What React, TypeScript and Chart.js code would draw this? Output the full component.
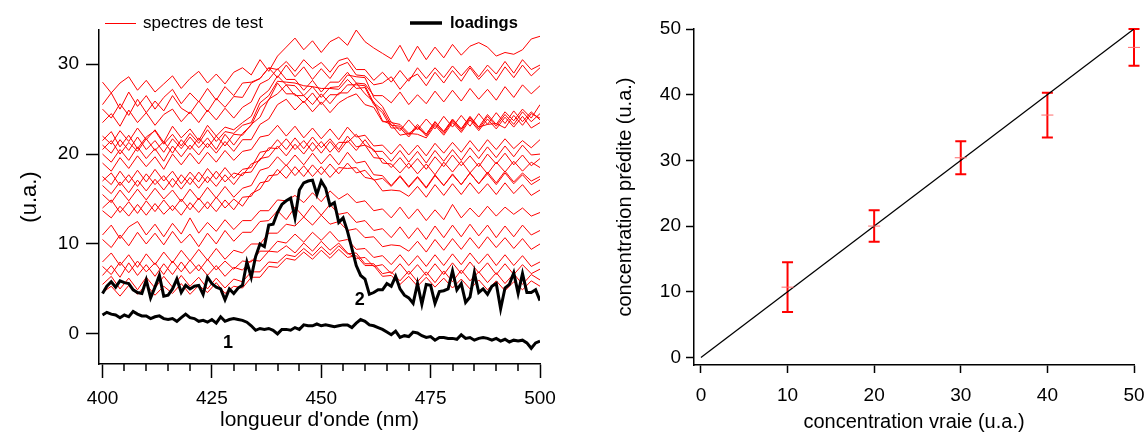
import React, { useEffect, useRef } from "react";
import { Chart, registerables } from "chart.js";

Chart.register(...registerables);

const FONT = "'Liberation Sans', Arial, Helvetica, sans-serif";
Chart.defaults.font.family = FONT;
Chart.defaults.color = "#000";

// ---------- Left panel data ----------
const WL_2NM = [
  400, 402, 404, 406, 408, 410, 412, 414, 416, 418, 420, 422, 424, 426, 428, 430, 432, 434, 436, 438,
  440, 442, 444, 446, 448, 450, 452, 454, 456, 458, 460, 462, 464, 466, 468, 470, 472, 474, 476, 478,
  480, 482, 484, 486, 488, 490, 492, 494, 496, 498, 500,
];
const WL_1NM = [
  400, 401, 402, 403, 404, 405, 406, 407, 408, 409, 410, 411, 412, 413, 414, 415, 416, 417, 418, 419,
  420, 421, 422, 423, 424, 425, 426, 427, 428, 429, 430, 431, 432, 433, 434, 435, 436, 437, 438, 439,
  440, 441, 442, 443, 444, 445, 446, 447, 448, 449, 450, 451, 452, 453, 454, 455, 456, 457, 458, 459,
  460, 461, 462, 463, 464, 465, 466, 467, 468, 469, 470, 471, 472, 473, 474, 475, 476, 477, 478, 479,
  480, 481, 482, 483, 484, 485, 486, 487, 488, 489, 490, 491, 492, 493, 494, 495, 496, 497, 498, 499, 500,
];

const SPECTRUM_01 = [28.0, 26.8, 27.9, 28.6, 27.1, 28.2, 26.9, 27.8, 28.7, 27.3, 28.4, 29.2, 27.9, 28.9, 27.8, 29.1, 29.6, 28.8, 30.5, 29.2, 30.9, 31.9, 32.9, 31.6, 32.6, 31.3, 32.5, 33.0, 32.1, 33.8, 32.5, 31.8, 31.2, 30.6, 32.1, 30.3, 32.0, 30.5, 31.9, 30.7, 32.2, 31.0, 32.0, 32.4, 31.9, 30.9, 31.3, 31.1, 31.6, 32.8, 33.1];
const SPECTRUM_02 = [25.5, 26.8, 25.0, 26.9, 25.3, 26.5, 25.0, 26.3, 27.2, 25.6, 26.8, 25.8, 27.3, 26.0, 27.5, 26.5, 27.9, 28.0, 28.4, 29.6, 29.4, 30.3, 29.2, 30.5, 29.5, 30.2, 29.1, 30.4, 30.7, 29.4, 29.4, 28.2, 29.1, 28.0, 29.3, 28.1, 29.6, 28.4, 29.6, 28.5, 29.8, 28.7, 29.8, 28.6, 29.9, 28.9, 30.3, 29.0, 30.5, 29.4, 29.9];
const SPECTRUM_03 = [25.0, 24.0, 25.6, 24.3, 26.1, 24.6, 25.9, 24.8, 26.5, 25.1, 24.5, 25.9, 24.7, 26.2, 25.2, 26.4, 26.3, 27.9, 28.4, 29.6, 28.5, 29.9, 28.6, 29.7, 28.3, 29.5, 28.4, 29.8, 30.2, 28.8, 28.7, 27.7, 27.9, 28.6, 27.2, 28.4, 28.9, 27.6, 29.1, 27.9, 29.3, 28.1, 29.6, 28.3, 29.4, 28.2, 29.7, 28.5, 29.9, 28.7, 29.6];
const SPECTRUM_04 = [23.5, 24.5, 23.1, 24.9, 23.5, 24.6, 23.2, 24.4, 25.0, 23.6, 24.7, 23.5, 24.9, 23.8, 25.1, 24.0, 25.2, 25.8, 27.8, 28.3, 29.5, 28.3, 28.3, 27.1, 28.2, 26.9, 28.0, 28.0, 29.1, 27.9, 27.8, 26.5, 26.5, 25.7, 26.9, 25.5, 26.6, 25.6, 27.0, 25.8, 27.1, 25.9, 27.3, 26.1, 27.2, 26.0, 27.5, 26.3, 27.7, 26.7, 27.6];
const SPECTRUM_05 = [22.0, 21.1, 22.6, 21.4, 22.9, 21.6, 22.7, 21.3, 23.1, 21.8, 22.8, 21.5, 23.2, 22.0, 23.0, 22.7, 23.5, 24.2, 26.3, 27.1, 28.7, 27.7, 27.6, 26.5, 27.5, 26.3, 27.4, 27.5, 28.8, 28.6, 28.5, 26.3, 25.3, 23.5, 23.3, 22.3, 22.9, 22.2, 23.6, 22.5, 23.8, 22.8, 24.2, 23.0, 24.4, 23.3, 24.7, 23.7, 25.0, 24.0, 25.5];
const SPECTRUM_06 = [21.5, 22.5, 20.8, 22.1, 20.6, 21.9, 22.6, 21.1, 22.2, 20.9, 22.3, 21.2, 22.7, 21.4, 22.5, 22.3, 23.2, 23.5, 25.7, 26.5, 28.1, 28.0, 27.9, 27.6, 27.5, 27.3, 27.3, 27.2, 28.3, 27.3, 27.4, 25.5, 24.6, 22.9, 22.9, 21.9, 23.1, 22.0, 23.4, 22.3, 23.7, 22.6, 24.0, 22.8, 24.2, 23.1, 24.4, 23.3, 24.7, 23.6, 24.5];
const SPECTRUM_07 = [21.0, 20.1, 21.6, 20.4, 21.9, 20.5, 21.5, 20.2, 21.7, 20.6, 21.9, 20.7, 21.8, 20.5, 22.2, 21.0, 22.3, 23.2, 25.2, 26.0, 27.9, 26.7, 26.7, 25.7, 26.8, 25.5, 26.6, 26.6, 27.7, 27.7, 27.6, 25.7, 24.9, 23.2, 23.1, 22.1, 23.3, 22.2, 23.6, 22.5, 23.9, 22.8, 24.1, 23.0, 23.3, 23.4, 22.9, 24.3, 23.2, 24.5, 24.0];
const SPECTRUM_08 = [20.5, 21.5, 20.0, 21.3, 20.3, 21.7, 20.4, 21.4, 20.1, 21.6, 20.5, 21.8, 20.7, 22.0, 20.9, 22.2, 22.1, 23.3, 24.1, 26.1, 26.7, 27.7, 26.5, 26.5, 25.5, 26.7, 25.6, 26.8, 26.8, 27.9, 26.7, 25.8, 23.7, 23.3, 22.1, 22.3, 22.2, 21.8, 23.2, 22.1, 23.5, 22.4, 23.8, 22.6, 23.9, 22.8, 24.1, 23.0, 24.2, 22.9, 23.5];
const SPECTRUM_09 = [20.0, 19.1, 20.5, 19.3, 20.8, 19.5, 20.6, 19.2, 20.9, 19.7, 21.0, 19.9, 21.2, 20.1, 21.4, 20.3, 21.6, 21.6, 23.3, 23.9, 25.5, 26.1, 24.9, 25.9, 24.7, 25.8, 24.6, 25.7, 26.3, 26.7, 25.5, 25.2, 23.6, 23.6, 22.6, 23.8, 22.7, 23.9, 22.8, 24.2, 23.0, 24.3, 23.1, 24.5, 23.3, 24.6, 23.4, 24.8, 23.6, 24.7, 23.8];
const SPECTRUM_10 = [19.0, 18.1, 19.6, 18.4, 19.8, 18.6, 19.7, 18.3, 20.0, 18.8, 20.1, 18.9, 20.2, 19.1, 20.4, 19.3, 20.3, 20.5, 21.9, 22.1, 23.2, 22.0, 23.1, 21.8, 22.9, 21.7, 22.8, 21.6, 23.0, 21.9, 22.1, 20.9, 21.0, 20.0, 21.1, 19.9, 21.0, 19.8, 21.2, 20.1, 21.3, 20.2, 21.5, 20.3, 21.6, 20.5, 21.7, 20.6, 21.5, 20.7, 21.6];
const SPECTRUM_11 = [17.5, 16.6, 18.1, 16.8, 18.2, 16.9, 18.3, 17.0, 18.1, 16.7, 18.0, 16.9, 18.4, 17.2, 18.5, 17.3, 18.3, 18.5, 20.2, 20.4, 21.6, 20.5, 21.8, 20.6, 21.9, 20.7, 21.7, 20.5, 22.0, 20.8, 21.0, 19.6, 19.5, 18.5, 19.6, 18.4, 19.5, 18.3, 19.7, 18.6, 19.9, 18.7, 19.8, 18.6, 20.0, 18.9, 20.1, 18.8, 19.9, 18.7, 19.5];
const SPECTRUM_12 = [17.0, 17.9, 16.5, 17.7, 16.4, 17.8, 16.6, 17.6, 16.3, 17.7, 16.6, 18.0, 16.8, 18.1, 16.9, 17.9, 17.6, 18.9, 19.3, 20.7, 20.6, 21.7, 20.5, 21.5, 20.3, 21.4, 20.2, 21.3, 21.3, 22.2, 21.0, 20.5, 19.0, 18.9, 17.9, 19.0, 17.8, 18.9, 17.7, 19.1, 18.0, 19.2, 17.9, 19.0, 17.8, 19.1, 18.0, 19.2, 18.1, 19.1, 18.5];
const SPECTRUM_13 = [16.5, 15.6, 16.9, 15.7, 17.1, 15.9, 17.2, 16.0, 17.3, 16.1, 17.4, 16.2, 17.5, 16.4, 17.7, 16.6, 17.9, 18.0, 19.5, 19.7, 20.9, 19.8, 21.1, 20.0, 21.3, 20.1, 21.4, 20.2, 21.5, 20.4, 21.6, 20.3, 20.3, 19.2, 20.4, 19.1, 20.3, 19.0, 20.4, 19.2, 20.5, 19.3, 20.7, 19.5, 20.8, 19.6, 20.9, 19.7, 21.0, 19.9, 20.0];
const SPECTRUM_14 = [15.5, 14.6, 16.0, 14.8, 16.1, 14.9, 16.2, 15.0, 16.0, 14.7, 16.1, 14.9, 16.3, 15.1, 16.4, 15.2, 16.2, 16.5, 18.2, 18.5, 19.7, 18.7, 19.9, 18.8, 20.1, 18.9, 20.0, 18.8, 20.2, 19.0, 19.2, 17.7, 17.6, 16.5, 17.6, 16.4, 17.5, 16.3, 17.7, 16.5, 17.8, 16.6, 17.9, 16.7, 17.8, 16.6, 17.9, 16.7, 17.7, 16.6, 17.2];
const SPECTRUM_15 = [14.0, 14.9, 13.5, 14.7, 13.4, 14.8, 13.6, 14.9, 13.7, 15.0, 13.8, 15.1, 13.9, 15.2, 14.0, 15.0, 14.2, 15.6, 16.1, 17.6, 17.7, 18.8, 17.6, 18.7, 17.5, 18.6, 17.4, 18.5, 18.4, 18.5, 17.4, 17.2, 15.9, 16.0, 15.9, 15.3, 16.4, 15.2, 16.6, 15.4, 16.7, 15.5, 16.8, 15.6, 16.7, 15.5, 16.8, 15.6, 16.6, 15.4, 16.0];
const SPECTRUM_16 = [13.7, 12.9, 14.2, 13.1, 14.4, 13.2, 14.5, 13.3, 14.3, 13.2, 14.6, 13.5, 14.7, 13.6, 14.9, 13.8, 15.2, 15.3, 16.8, 17.0, 18.3, 17.3, 18.6, 17.5, 18.8, 17.7, 18.9, 17.8, 19.0, 17.9, 18.2, 17.1, 17.3, 16.4, 17.5, 16.3, 17.4, 16.2, 17.6, 16.5, 17.7, 16.6, 17.9, 16.7, 18.0, 16.8, 18.1, 16.9, 17.9, 17.0, 17.5];
const SPECTRUM_17 = [11.0, 12.1, 10.6, 11.9, 12.5, 11.0, 12.2, 10.8, 12.3, 11.1, 12.9, 11.2, 12.4, 11.4, 12.7, 11.6, 12.6, 12.6, 13.7, 13.7, 14.9, 14.8, 15.4, 14.6, 15.7, 14.7, 15.9, 15.0, 15.6, 14.6, 14.8, 13.7, 13.9, 12.9, 14.1, 12.8, 13.9, 12.6, 13.8, 12.7, 14.4, 12.9, 14.0, 13.0, 14.2, 13.1, 14.1, 13.3, 14.0, 13.1, 13.5];
const SPECTRUM_18 = [10.5, 9.6, 11.0, 9.8, 11.3, 10.0, 11.2, 9.9, 11.4, 10.1, 11.1, 9.7, 11.2, 10.0, 11.5, 10.3, 11.3, 11.3, 12.5, 12.6, 13.7, 12.7, 14.1, 13.0, 14.3, 13.2, 14.4, 13.3, 13.5, 12.4, 12.6, 11.5, 11.7, 10.7, 11.9, 10.6, 11.8, 10.5, 12.0, 10.7, 12.1, 10.8, 12.2, 10.9, 12.1, 10.7, 12.0, 10.8, 12.1, 11.0, 11.5];
const SPECTRUM_19 = [8.0, 9.0, 7.6, 8.8, 7.4, 8.9, 7.7, 9.1, 7.9, 9.3, 8.1, 9.4, 8.2, 9.5, 8.3, 9.3, 9.0, 10.0, 10.0, 11.2, 11.2, 12.2, 12.0, 13.0, 12.1, 13.2, 12.2, 12.5, 11.5, 11.7, 10.7, 10.8, 9.7, 9.9, 9.8, 9.2, 10.3, 9.1, 10.5, 9.3, 10.6, 9.4, 10.7, 9.5, 10.8, 9.6, 10.7, 9.5, 10.6, 9.4, 10.0];
const SPECTRUM_20 = [7.5, 6.6, 8.0, 6.8, 8.1, 6.9, 7.9, 6.6, 8.1, 6.9, 8.2, 7.0, 8.3, 7.1, 8.1, 7.2, 8.1, 8.0, 9.2, 9.2, 10.3, 10.1, 11.1, 10.2, 11.3, 10.4, 11.4, 10.3, 10.5, 9.4, 9.5, 8.5, 8.7, 7.7, 8.8, 7.6, 8.7, 7.5, 8.8, 7.6, 8.9, 7.7, 9.0, 7.8, 8.9, 7.6, 8.8, 7.6, 8.7, 7.5, 8.0];
const SPECTRUM_21 = [6.5, 7.6, 6.3, 7.9, 6.5, 7.7, 6.4, 7.8, 6.6, 8.0, 6.7, 7.7, 6.5, 7.6, 6.4, 7.4, 7.1, 8.2, 8.1, 9.2, 9.1, 9.8, 9.0, 10.1, 9.2, 10.3, 9.3, 10.1, 9.0, 8.4, 8.5, 7.5, 7.7, 6.7, 7.8, 6.6, 7.7, 6.5, 7.8, 6.6, 7.9, 6.7, 8.0, 6.8, 7.9, 6.6, 7.8, 6.6, 7.7, 6.7, 7.2];
const SPECTRUM_22 = [5.5, 6.4, 5.0, 6.2, 4.9, 6.3, 5.1, 6.4, 5.2, 6.5, 5.3, 6.3, 5.0, 6.2, 5.1, 6.1, 5.8, 6.9, 6.9, 8.0, 7.9, 8.8, 8.6, 9.5, 8.7, 9.7, 8.8, 9.8, 8.9, 9.0, 7.8, 7.8, 6.7, 6.9, 5.9, 7.0, 5.8, 6.9, 5.7, 7.0, 5.8, 7.1, 5.9, 6.9, 5.7, 6.8, 5.6, 6.7, 5.5, 6.6, 6.0];
const SPECTRUM_23 = [4.6, 5.3, 4.2, 5.4, 4.4, 5.5, 4.3, 5.3, 4.5, 5.6, 4.4, 5.4, 4.6, 5.7, 4.5, 5.3, 5.1, 6.3, 6.3, 7.5, 7.4, 8.4, 8.2, 9.1, 8.3, 9.3, 8.4, 9.4, 8.5, 8.7, 7.6, 7.6, 6.4, 6.5, 5.5, 6.4, 5.3, 6.3, 5.2, 6.2, 5.1, 6.1, 5.0, 6.0, 4.9, 5.9, 4.8, 5.8, 4.9, 5.9, 5.3];

const TEST_SPECTRA = [
  SPECTRUM_01, SPECTRUM_02, SPECTRUM_03, SPECTRUM_04, SPECTRUM_05, SPECTRUM_06, SPECTRUM_07, SPECTRUM_08,
  SPECTRUM_09, SPECTRUM_10, SPECTRUM_11, SPECTRUM_12, SPECTRUM_13, SPECTRUM_14, SPECTRUM_15, SPECTRUM_16,
  SPECTRUM_17, SPECTRUM_18, SPECTRUM_19, SPECTRUM_20, SPECTRUM_21, SPECTRUM_22, SPECTRUM_23,
];

const LOADING_1 = [
  2.1, 2.4, 2.2, 2.1, 1.8, 2.1, 1.9, 2.5, 2.2, 2.0,
  2.0, 1.7, 1.9, 2.0, 1.7, 1.6, 1.7, 1.4, 1.8, 2.2,
  1.8, 1.7, 1.4, 1.5, 1.3, 1.6, 1.2, 1.9, 1.4, 1.6,
  1.7, 1.6, 1.5, 1.3, 0.9, 0.4, 0.6, 0.5, 0.6, 0.4,
  0.0, 0.5, 0.5, 0.4, 0.7, 0.5, 1.0, 0.9, 0.9, 1.1,
  0.9, 1.0, 0.9, 0.8, 0.9, 1.0, 1.0, 0.7, 1.2, 1.6,
  1.4, 1.0, 0.9, 0.7, 0.5, 0.2, -0.1, 0.3, -0.4, -0.2,
  -0.3, 0.2, 0.1, -0.2, -0.4, -0.3, -0.7, -0.4, -0.4, -0.5,
  -0.5, -0.6, -0.1, -0.5, -0.4, -0.7, -0.5, -0.4, -0.5, -0.7,
  -0.5, -0.8, -0.6, -0.9, -0.7, -0.8, -0.7, -1.0, -1.6, -1.0,
  -0.8,
];
const LOADING_2 = [
  4.5, 5.3, 5.8, 5.2, 5.9, 5.7, 5.6, 4.9, 4.6, 4.5,
  6.0, 4.0, 5.2, 6.5, 4.2, 4.3, 5.0, 6.1, 4.6, 5.4,
  5.0, 5.3, 5.4, 4.4, 6.3, 5.6, 5.2, 5.0, 3.8, 5.0,
  4.5, 5.1, 5.4, 8.0, 6.3, 8.6, 10.0, 9.7, 12.1, 12.2,
  13.5, 14.4, 14.8, 15.1, 12.9, 16.0, 16.8, 17.0, 17.1, 15.5,
  17.0, 16.2, 14.3, 14.6, 12.4, 12.9, 11.4, 9.5, 7.6, 6.5,
  6.1, 4.4, 4.6, 4.9, 4.9, 5.6, 5.3, 6.4, 5.0, 4.3,
  4.0, 3.4, 5.6, 3.3, 5.5, 5.4, 3.4, 4.7, 4.8, 5.0,
  7.0, 4.9, 5.6, 3.5, 4.1, 6.8, 4.6, 5.0, 4.4, 5.3,
  5.6, 2.8, 5.1, 5.5, 6.8, 4.5, 6.7, 4.6, 4.6, 4.9,
  3.7,
];
const LOADING_NAMES = ["1", "2"];
const LOADING_LABEL_X = [428.7, 458.8];
const LOADING_LABEL_Y = [-1.0, 3.8];

const LEFT_X_TICKS = [400, 405, 410, 415, 420, 425, 430, 435, 440, 445, 450, 455, 460, 465, 470, 475, 480, 485, 490, 495, 500];
const LEFT_X_MAJOR = [400, 425, 450, 475, 500];
const LEFT_Y_TICKS = [0, 10, 20, 30];

// ---------- Right panel data ----------
const TRUE_CONC = [10, 20, 30, 40, 50];
const PRED_CONC = [10.7, 20.0, 30.4, 36.9, 47.2];
const ERR_LOW = [6.9, 17.6, 27.9, 33.5, 44.4];
const ERR_HIGH = [14.5, 22.4, 32.9, 40.3, 50.0];
const FIT_X = [0, 50];
const FIT_Y = [0, 50];
const RIGHT_TICKS = [0, 10, 20, 30, 40, 50];

const toPoints = (xs: number[], ys: number[]) => ys.map((y, i) => ({ x: xs[i], y }));

const leftDecor = {
  id: "leftDecor",
  afterDraw(chart: any) {
    const { ctx, chartArea } = chart;
    const xs = chart.scales.x;
    const ys = chart.scales.y;
    ctx.save();
    ctx.strokeStyle = "#000";
    ctx.lineWidth = 1.5;
    LEFT_X_TICKS.forEach((v) => {
      if (LEFT_X_MAJOR.includes(v)) return;
      const px = Math.round(xs.getPixelForValue(v));
      ctx.beginPath();
      ctx.moveTo(px, chartArea.bottom);
      ctx.lineTo(px, chartArea.bottom + 7);
      ctx.stroke();
    });
    ctx.strokeStyle = "#ff0000";
    ctx.lineWidth = 1;
    ctx.beginPath();
    ctx.moveTo(105, 23.5);
    ctx.lineTo(136, 23.5);
    ctx.stroke();
    ctx.fillStyle = "#000";
    ctx.textBaseline = "middle";
    ctx.textAlign = "left";
    ctx.font = `17px ${FONT}`;
    ctx.fillText("spectres de test", 143, 23);
    ctx.strokeStyle = "#000";
    ctx.lineWidth = 3.5;
    ctx.beginPath();
    ctx.moveTo(410, 23);
    ctx.lineTo(442, 23);
    ctx.stroke();
    ctx.font = `bold 16.5px ${FONT}`;
    ctx.fillText("loadings", 450, 23);
    ctx.font = `bold 18px ${FONT}`;
    ctx.textAlign = "center";
    LOADING_NAMES.forEach((name, i) => {
      ctx.fillText(name, xs.getPixelForValue(LOADING_LABEL_X[i]), ys.getPixelForValue(LOADING_LABEL_Y[i]));
    });
    ctx.restore();
  },
};

const errorBars = {
  id: "errorBars",
  beforeDatasetsDraw(chart: any) {
    const { ctx } = chart;
    const xs = chart.scales.x;
    const ys = chart.scales.y;
    ctx.save();
    ctx.strokeStyle = "#ff0000";
    ctx.lineWidth = 2;
    TRUE_CONC.forEach((xv, i) => {
      const px = xs.getPixelForValue(xv);
      const top = ys.getPixelForValue(ERR_HIGH[i]);
      const bot = ys.getPixelForValue(ERR_LOW[i]);
      ctx.beginPath();
      ctx.moveTo(px, top);
      ctx.lineTo(px, bot);
      ctx.moveTo(px - 5.5, top);
      ctx.lineTo(px + 5.5, top);
      ctx.moveTo(px - 5.5, bot);
      ctx.lineTo(px + 5.5, bot);
      ctx.stroke();
    });
    ctx.restore();
  },
};

const noLabelOverflow = (s: any) => {
  s.paddingLeft = 0;
  s.paddingRight = 0;
};

function LeftChart() {
  const ref = useRef<HTMLCanvasElement>(null);
  useEffect(() => {
    if (!ref.current) return;
    const chart = new Chart(ref.current, {
      type: "line",
      data: {
        datasets: [
          { data: toPoints(WL_1NM, LOADING_1), borderColor: "#000", borderWidth: 3, pointRadius: 0, order: 0 },
          { data: toPoints(WL_1NM, LOADING_2), borderColor: "#000", borderWidth: 3, pointRadius: 0, order: 0 },
          ...TEST_SPECTRA.map((s) => ({
            data: toPoints(WL_2NM, s),
            borderColor: "#ff0000",
            borderWidth: 1,
            pointRadius: 0,
            order: 1,
          })),
        ],
      },
      options: {
        animation: false,
        responsive: false,
        maintainAspectRatio: false,
        events: [],
        layout: { padding: { left: 0, top: 30, right: 50, bottom: 0 } },
        plugins: { legend: { display: false }, tooltip: { enabled: false } },
        elements: { line: { tension: 0 } },
        scales: {
          x: {
            type: "linear",
            min: 399.2,
            max: 500,
            afterBuildTicks: (s: any) => {
              s.ticks = LEFT_X_TICKS.map((v) => ({ value: v }));
            },
            afterFit: (s: any) => {
              s.height = 68;
              noLabelOverflow(s);
            },
            ticks: {
              autoSkip: false,
              maxRotation: 0,
              padding: 9,
              font: { size: 19 },
              color: "#000",
              callback: (v: any) => (LEFT_X_MAJOR.includes(Number(v)) ? String(v) : ""),
            },
            grid: {
              drawOnChartArea: false,
              drawTicks: true,
              tickLength: 14,
              tickWidth: 1.5,
              tickColor: (c: any) =>
                c.tick && LEFT_X_MAJOR.includes(c.tick.value) ? "#000" : "rgba(0,0,0,0)",
            },
            border: { display: true, color: "#000", width: 1.5 },
            title: {
              display: true,
              text: "longueur d'onde (nm)",
              font: { size: 21, lineHeight: 1 },
              color: "#000",
              padding: { top: 0, bottom: 1 },
            },
          },
          y: {
            type: "linear",
            min: -3.35,
            max: 33.8,
            afterBuildTicks: (s: any) => {
              s.ticks = LEFT_Y_TICKS.map((v) => ({ value: v }));
            },
            afterFit: (s: any) => {
              s.width = 99;
            },
            ticks: { padding: 7, font: { size: 19 }, color: "#000" },
            grid: { drawOnChartArea: false, drawTicks: true, tickLength: 13, tickWidth: 1.5, tickColor: "#000" },
            border: { display: true, color: "#000", width: 1.5 },
            title: {
              display: true,
              text: "(u.a.)",
              font: { size: 22, lineHeight: 1 },
              color: "#000",
              padding: { top: 19, bottom: 0 },
            },
          },
        },
      },
      plugins: [leftDecor],
    } as any);
    return () => chart.destroy();
  }, []);
  return <canvas ref={ref} width={590} height={432} style={{ position: "absolute", left: 0, top: 0 }} />;
}

function RightChart() {
  const ref = useRef<HTMLCanvasElement>(null);
  useEffect(() => {
    if (!ref.current) return;
    const chart = new Chart(ref.current, {
      type: "scatter",
      data: {
        datasets: [
          {
            type: "scatter",
            data: toPoints(TRUE_CONC, PRED_CONC),
            pointStyle: "line",
            pointRadius: 6,
            borderColor: "#ff6a6a",
            backgroundColor: "#ff6a6a",
            borderWidth: 1,
            clip: false,
            order: 0,
          },
          {
            type: "line",
            data: toPoints(FIT_X, FIT_Y),
            borderColor: "#000",
            borderWidth: 1.3,
            pointRadius: 0,
            order: 1,
          },
        ],
      },
      options: {
        animation: false,
        responsive: false,
        maintainAspectRatio: false,
        events: [],
        layout: { padding: { left: 0, top: 29, right: 12, bottom: 0 } },
        plugins: { legend: { display: false }, tooltip: { enabled: false } },
        scales: {
          x: {
            type: "linear",
            min: -0.8,
            max: 50,
            afterBuildTicks: (s: any) => {
              s.ticks = RIGHT_TICKS.map((v) => ({ value: v }));
            },
            afterFit: (s: any) => {
              s.height = 67;
              noLabelOverflow(s);
            },
            ticks: { autoSkip: false, maxRotation: 0, padding: 11, font: { size: 19 }, color: "#000" },
            grid: { drawOnChartArea: false, drawTicks: true, tickLength: 8, tickWidth: 1.5, tickColor: "#000" },
            border: { display: true, color: "#000", width: 1.5 },
            title: {
              display: true,
              text: "concentration vraie (u.a.)",
              font: { size: 20, lineHeight: 1 },
              color: "#000",
              padding: { top: 0, bottom: 0 },
            },
          },
          y: {
            type: "linear",
            min: -1.15,
            max: 50,
            afterBuildTicks: (s: any) => {
              s.ticks = RIGHT_TICKS.map((v) => ({ value: v }));
            },
            afterFit: (s: any) => {
              s.width = 104;
            },
            ticks: { padding: 5, font: { size: 19 }, color: "#000" },
            grid: { drawOnChartArea: false, drawTicks: true, tickLength: 8, tickWidth: 1.5, tickColor: "#000" },
            border: { display: true, color: "#000", width: 1.5 },
            title: {
              display: true,
              text: "concentration prédite (u.a.)",
              font: { size: 20, lineHeight: 1 },
              color: "#000",
              padding: { top: 25, bottom: 0 },
            },
          },
        },
      },
      plugins: [errorBars],
    } as any);
    return () => chart.destroy();
  }, []);
  return <canvas ref={ref} width={556} height={432} style={{ position: "absolute", left: 590, top: 0 }} />;
}

export default function App() {
  return (
    <div style={{ position: "absolute", left: 0, top: 0, width: 1146, height: 432, background: "#fff", overflow: "hidden" }}>
      <LeftChart />
      <RightChart />
    </div>
  );
}
